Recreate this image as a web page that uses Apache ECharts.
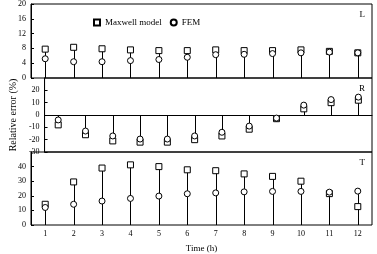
<!DOCTYPE html>
<html><head><meta charset="utf-8">
<script src="https://cdn.jsdelivr.net/npm/echarts@6/dist/echarts.min.js"></script>
<style>html,body{margin:0;padding:0;background:#fff}#c{width:377px;height:254px}</style>
</head><body><div id="c"></div>
<script>
const categories = ['1','2','3','4','5','6','7','8','9','10','11','12'];
const L_maxwell = [7.8, 8.3, 7.9, 7.6, 7.4, 7.4, 7.6, 7.4, 7.4, 7.6, 7.2, 6.8];
const L_fem     = [5.2, 4.4, 4.4, 4.7, 5.0, 5.6, 6.3, 6.4, 6.6, 6.8, 7.0, 6.8];
const R_maxwell = [-8, -16, -21, -22, -22, -20, -17, -11.5, -3, 5, 10, 12];
const R_fem     = [-4, -13, -17, -19.5, -19.5, -17, -14, -9, -2.5, 8, 12.5, 14.5];
const T_maxwell = [14.2, 29.5, 39, 41.2, 40, 37.8, 37.2, 35, 33.3, 30, 21.5, 12.6];
const T_fem     = [12, 14.2, 16.4, 18.2, 19.8, 21.4, 22, 22.7, 23, 23, 22.5, 23.2];
const panelNames = ['L', 'R', 'T'];
const yTicks = [{min:0,max:20,interval:4},{min:-30,max:30,interval:10},{min:0,max:50,interval:10}];

const FONT = 'Liberation Serif';
const panels = [[L_maxwell, L_fem],[R_maxwell, R_fem],[T_maxwell, T_fem]];
const tops = [4, 78, 152];
const H = 74;

const grid = tops.map(t => ({left:31, right:5, top:t, height:H, show:true, borderColor:'#000', borderWidth:1, backgroundColor:'transparent'}));
const xAxis = tops.map((t,i) => ({
  type:'category', gridIndex:i, data:categories, boundaryGap:true,
  axisLine:{show: i===1, onZero:true, lineStyle:{color:'#000', width:1}},
  axisTick:{show:false},
  axisLabel:{show: i===2, color:'#000', fontFamily:FONT, fontSize:8, margin:5},
  name: i===2 ? 'Time (h)' : '', nameLocation:'middle', nameGap:19,
  nameTextStyle:{color:'#000', fontFamily:FONT, fontSize:9}
}));
const yAxis = yTicks.map((y,i) => ({
  type:'value', gridIndex:i, min:y.min, max:y.max, interval:y.interval,
  axisLine:{show:true, lineStyle:{color:'#000', width:1}},
  axisTick:{show:true, inside:true, length:3, lineStyle:{color:'#000'}},
  splitLine:{show:false},
  axisLabel:{color:'#000', fontFamily:FONT, fontSize:8, margin:5, showMaxLabel: i===0},
  name: i===1 ? 'Relative error (%)' : '', nameLocation:'middle', nameGap:23, nameRotate:90,
  nameTextStyle:{color:'#000', fontFamily:FONT, fontSize:10}
}));

const series = [];
panels.forEach((p, i) => {
  const [m, f] = p;
  const stems = m.map((v, k) => [k, Math.abs(v) >= Math.abs(f[k]) ? v : f[k]]);
  series.push({
    type:'custom', xAxisIndex:i, yAxisIndex:i, data:stems, silent:true, z:1,
    encode:{x:0, y:1},
    renderItem:(params, api) => {
      const a = api.coord([api.value(0), 0]);
      const b = api.coord([api.value(0), api.value(1)]);
      const x = Math.round(a[0]) + 0.5;
      return {type:'line', shape:{x1:x, y1:a[1], x2:x, y2:b[1]}, style:{stroke:'#000', lineWidth:1}};
    }
  });
  series.push({
    type:'scatter', name:'Maxwell model', xAxisIndex:i, yAxisIndex:i, data:m,
    symbol:'rect', symbolSize:6, z:2,
    itemStyle:{color:'#fff', borderColor:'#000', borderWidth:1, opacity:1}
  });
  series.push({
    type:'scatter', name:'FEM', xAxisIndex:i, yAxisIndex:i, data:f,
    symbol:'circle', symbolSize:6, z:3,
    itemStyle:{color:'#fff', borderColor:'#000', borderWidth:1, opacity:1}
  });
});

const graphic = panelNames.map((n, i) => ({
  type:'text', right:12, top: tops[i] + 6,
  style:{text:n, fill:'#000', font:'9px "' + FONT + '"'}
}));

const chart = echarts.init(document.getElementById('c'), null, {renderer:'canvas'});
chart.setOption({
  animation:false,
  backgroundColor:'#fff',
  grid, xAxis, yAxis, series, graphic,
  legend:{
    data:['Maxwell model','FEM'], left:88, top:13, itemWidth:6, itemHeight:6, itemGap:8,
    textStyle:{color:'#000', fontFamily:FONT, fontSize:9}, selectedMode:false
  }
});
</script></body></html>
